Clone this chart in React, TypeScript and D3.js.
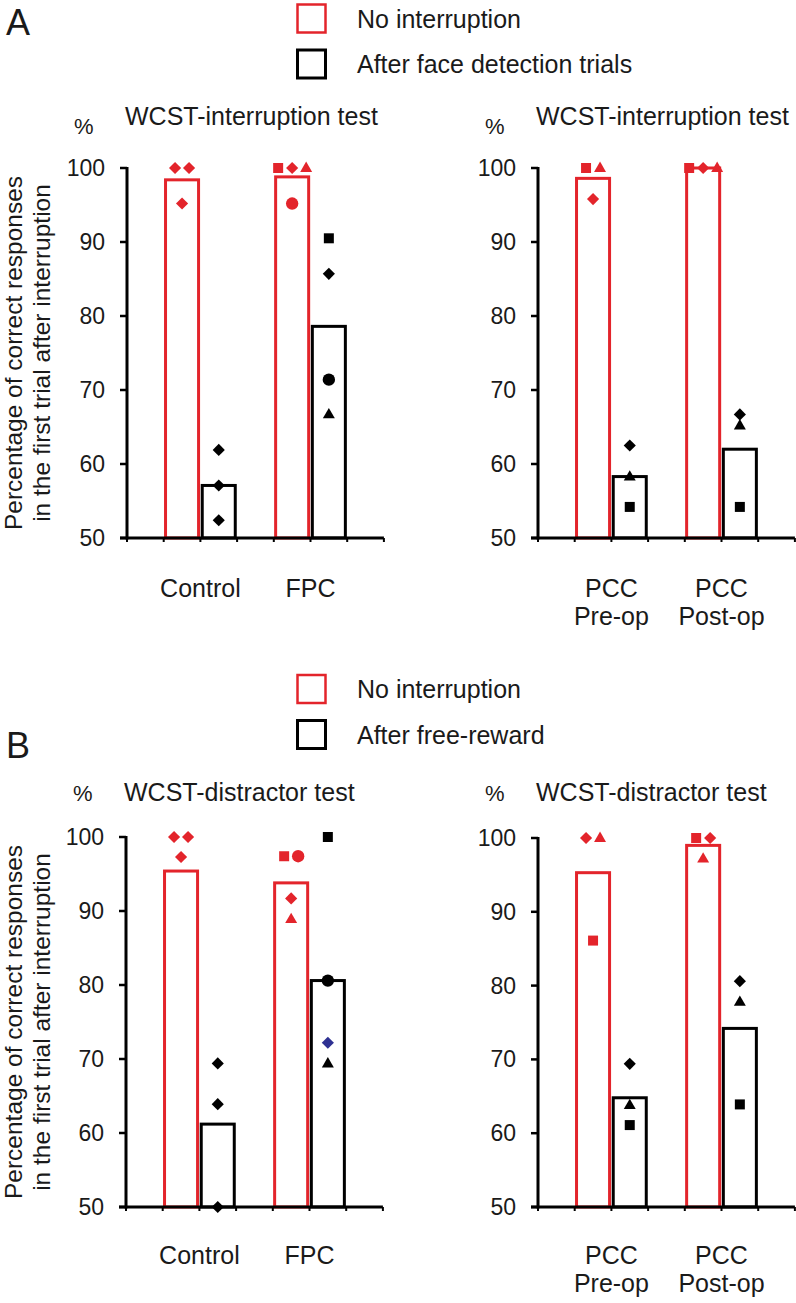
import React from "react";
import * as d3 from "d3";

// ---------- data ----------
const yTicks = [50, 60, 70, 80, 90, 100];
const legendA = ["No interruption", "After face detection trials"];
const legendB = ["No interruption", "After free-reward"];
const titleA = "WCST-interruption test";
const titleB = "WCST-distractor test";
const yLabelLines = ["Percentage of correct responses", "in the first trial after interruption"];
const catsLeft = [["Control"], ["FPC"]];
const catsRight = [["PCC", "Pre-op"], ["PCC", "Post-op"]];

// bar means (No interruption, After ...)
const aLeftNoInt = [98.4, 98.8];
const aLeftAfter = [57.1, 78.6];
const aRightNoInt = [98.6, 100];
const aRightAfter = [58.3, 62.0];
const bLeftNoInt = [95.4, 93.8];
const bLeftAfter = [61.2, 80.6];
const bRightNoInt = [95.3, 99.0];
const bRightAfter = [64.8, 74.2];

type Pt = [string, number, string?];
// individual points per category
const aLeftNoIntPts: Pt[][] = [
  [["diamond", 100], ["diamond", 100], ["diamond", 95.2]],
  [["square", 100], ["diamond", 100], ["triangle", 100], ["circle", 95.2]],
];
const aLeftAfterPts: Pt[][] = [
  [["diamond", 61.9], ["diamond", 57.1], ["diamond", 52.4]],
  [["square", 90.5], ["diamond", 85.7], ["circle", 71.4], ["triangle", 66.7]],
];
const aRightNoIntPts: Pt[][] = [
  [["square", 100], ["triangle", 100], ["diamond", 95.8]],
  [["square", 100], ["diamond", 100], ["triangle", 100]],
];
const aRightAfterPts: Pt[][] = [
  [["diamond", 62.5], ["triangle", 58.3], ["square", 54.2]],
  [["diamond", 66.7], ["triangle", 65.2], ["square", 54.2]],
];
const bLeftNoIntPts: Pt[][] = [
  [["diamond", 100], ["diamond", 100], ["diamond", 97.3]],
  [["square", 97.4], ["circle", 97.4], ["diamond", 91.7], ["triangle", 88.9]],
];
const bLeftAfterPts: Pt[][] = [
  [["diamond", 69.4], ["diamond", 63.9], ["diamond", 50]],
  [["square", 100], ["circle", 80.6], ["diamond", 72.2, "navy"], ["triangle", 69.4]],
];
const bRightNoIntPts: Pt[][] = [
  [["diamond", 100], ["triangle", 100], ["square", 86.1]],
  [["square", 100], ["diamond", 100], ["triangle", 97.2]],
];
const bRightAfterPts: Pt[][] = [
  [["diamond", 69.4], ["triangle", 63.8], ["square", 61.1]],
  [["diamond", 80.6], ["triangle", 77.8], ["square", 63.9]],
];

// ---------- style ----------
const RED = "#e3242b";
const BLACK = "#000";
const NAVY = "#2e3192";
const TEXT = "#1a1a1a";
const FONT = "'Liberation Sans', Arial, Helvetica, sans-serif";
const SLOT = 36.7;

function symbolPath(shape: string) {
  if (shape === "square") return d3.symbol(d3.symbolSquare, 100)()!;
  if (shape === "circle") return d3.symbol(d3.symbolCircle, 120)()!;
  if (shape === "triangle") return d3.symbol(d3.symbolTriangle, 62)()!;
  return d3.symbol(d3.symbolSquare, 74)()!; // rotated later
}

function Marker({ shape, cx, cy, color }: { shape: string; cx: number; cy: number; color: string }) {
  const rot = shape === "diamond" ? 45 : 0;
  const dy = shape === "triangle" ? 0.5 : 0;
  return <path d={symbolPath(shape)} transform={`translate(${cx},${cy + dy}) rotate(${rot})`} fill={color} />;
}

interface PanelProps {
  axisX: number;
  y100: number;
  y50: number;
  cats: string[][];
  noInt: number[];
  after: number[];
  noIntPts: Pt[][];
  afterPts: Pt[][];
  title: string;
  titleY: number;
  pctY: number;
  labelY: number;
}

function Panel(p: PanelProps) {
  const y = d3.scaleLinear().domain([50, 100]).range([p.y50, p.y100]);
  const keys = p.cats.map((c) => c.join(" "));
  const x = d3
    .scaleBand()
    .domain(keys)
    .range([p.axisX, p.axisX + 7 * SLOT])
    .paddingInner(1 / 3)
    .paddingOuter(1 / 3);
  const inner = d3
    .scaleBand()
    .domain(["no", "after"])
    .range([0, x.bandwidth()])
    .paddingInner(0.1)
    .paddingOuter(0.05);
  const slot = x.step() / 3;
  const tickXs = d3.range(8).map((i) => p.axisX + i * slot);

  const series = [
    { key: "no", vals: p.noInt, pts: p.noIntPts, color: RED },
    { key: "after", vals: p.after, pts: p.afterPts, color: BLACK },
  ];

  const bars: React.ReactNode[] = [];
  const marks: React.ReactNode[] = [];
  series.forEach((s) => {
    keys.forEach((k, ci) => {
      const bx = x(k)! + inner(s.key)!;
      const bw = inner.bandwidth();
      const top = y(s.vals[ci]);
      bars.push(
        <rect
          key={`b-${s.key}-${k}`}
          x={bx}
          y={top}
          width={bw}
          height={p.y50 - top}
          fill="#fff"
          stroke={s.color}
          strokeWidth={3}
        />
      );
      const cx = bx + bw / 2;
      const groups = d3.group(s.pts[ci], (d) => d[1]);
      groups.forEach((arr) => {
        arr.forEach((d, i) => {
          const off = (i - (arr.length - 1) / 2) * 14;
          const col = d[2] === "navy" ? NAVY : s.color;
          marks.push(
            <Marker key={`m-${s.key}-${k}-${d[0]}-${d[1]}-${i}`} shape={d[0]} cx={cx + off} cy={y(d[1])} color={col} />
          );
        });
      });
    });
  });

  return (
    <g>
      <text x={p.axisX - 53} y={p.pctY} fontSize={22} fill={TEXT} fontFamily={FONT}>%</text>
      <text x={p.axisX - 2} y={p.titleY} fontSize={25} fill={TEXT} fontFamily={FONT}>{p.title}</text>
      {bars}
      {/* y axis */}
      <line x1={p.axisX} x2={p.axisX} y1={p.y100 - 1} y2={p.y50 + 1.5} stroke={BLACK} strokeWidth={3} />
      {yTicks.map((t) => (
        <g key={t}>
          <line x1={p.axisX - 7} x2={p.axisX} y1={y(t)} y2={y(t)} stroke={BLACK} strokeWidth={2.5} />
          <text
            x={p.axisX - 22}
            y={y(t)}
            dy="0.35em"
            textAnchor="end"
            fontSize={23}
            fill={TEXT}
            fontFamily={FONT}
          >
            {t}
          </text>
        </g>
      ))}
      {/* x axis */}
      <line x1={p.axisX - 7} x2={p.axisX + 7 * slot} y1={p.y50} y2={p.y50} stroke={BLACK} strokeWidth={3} />
      {tickXs.map((tx, i) => (
        <line key={i} x1={tx} x2={tx} y1={p.y50} y2={p.y50 + 4} stroke={BLACK} strokeWidth={2} />
      ))}
      {marks}
      {keys.map((k, ci) =>
        p.cats[ci].map((line, li) => (
          <text
            key={`${k}-${li}`}
            x={x(k)! + x.bandwidth() / 2}
            y={p.labelY + li * 28}
            textAnchor="middle"
            fontSize={25}
            fill={TEXT}
            fontFamily={FONT}
          >
            {line}
          </text>
        ))
      )}
    </g>
  );
}

function Legend({ top, labels }: { top: number; labels: string[] }) {
  return (
    <g>
      {labels.map((l, i) => (
        <g key={l}>
          <rect
            x={297.5}
            y={top + i * 45.5}
            width={28}
            height={28}
            fill="#fff"
            stroke={i === 0 ? RED : BLACK}
            strokeWidth={i === 0 ? 2.5 : 3}
          />
          <text x={357} y={top + 23 + i * 45.5} fontSize={25} fill={TEXT} fontFamily={FONT}>
            {l}
          </text>
        </g>
      ))}
    </g>
  );
}

function YLabel({ cy }: { cy: number }) {
  return (
    <g>
      {yLabelLines.map((l, i) => (
        <text
          key={l}
          transform={`translate(${21.5 + i * 28.5},${cy}) rotate(-90)`}
          textAnchor="middle"
          fontSize={24.5}
          fill={TEXT}
          fontFamily={FONT}
        >
          {l}
        </text>
      ))}
    </g>
  );
}

export default function App() {
  return (
    <svg
      width={796}
      height={1303}
      viewBox="0 0 796 1303"
      style={{ position: "absolute", left: 0, top: 0, background: "#fff" }}
    >
      <rect width={796} height={1303} fill="#fff" />
      {/* Panel A */}
      <text x={6} y={35} fontSize={36} fill={TEXT} fontFamily={FONT}>A</text>
      <Legend top={4.5} labels={legendA} />
      <YLabel cy={353} />
      <Panel
        axisX={127}
        y100={168}
        y50={538}
        cats={catsLeft}
        noInt={aLeftNoInt}
        after={aLeftAfter}
        noIntPts={aLeftNoIntPts}
        afterPts={aLeftAfterPts}
        title={titleA}
        titleY={125}
        pctY={134}
        labelY={597}
      />
      <Panel
        axisX={538}
        y100={168}
        y50={538}
        cats={catsRight}
        noInt={aRightNoInt}
        after={aRightAfter}
        noIntPts={aRightNoIntPts}
        afterPts={aRightAfterPts}
        title={titleA}
        titleY={125}
        pctY={134}
        labelY={597}
      />
      {/* Panel B */}
      <text x={6} y={758} fontSize={36} fill={TEXT} fontFamily={FONT}>B</text>
      <Legend top={675} labels={legendB} />
      <YLabel cy={1022} />
      <Panel
        axisX={126}
        y100={837}
        y50={1207}
        cats={catsLeft}
        noInt={bLeftNoInt}
        after={bLeftAfter}
        noIntPts={bLeftNoIntPts}
        afterPts={bLeftAfterPts}
        title={titleB}
        titleY={801}
        pctY={801}
        labelY={1264}
      />
      <Panel
        axisX={538}
        y100={838}
        y50={1207}
        cats={catsRight}
        noInt={bRightNoInt}
        after={bRightAfter}
        noIntPts={bRightNoIntPts}
        afterPts={bRightAfterPts}
        title={titleB}
        titleY={801}
        pctY={801}
        labelY={1264}
      />
    </svg>
  );
}
